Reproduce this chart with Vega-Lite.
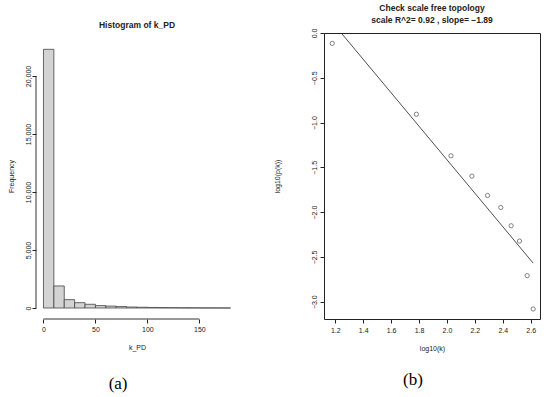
{
  "$schema": "https://vega.github.io/schema/vega-lite/v6.json",
  "background": "white",
  "padding": {"left": 7, "top": 3, "right": 5, "bottom": 5},
  "config": {
    "view": {"stroke": null},
    "font": "Liberation Sans",
    "axis": {"grid": false, "domain": false, "tickColor": "#222", "tickSize": 4, "labelColor": "#222", "labelFontSize": 7, "titleFontSize": 7, "titleFontWeight": "normal", "titleColor": "#222", "labelFont": "Liberation Sans", "titleFont": "Liberation Sans", "labelFlush": false, "labelOverlap": false},
    "title": {"font": "Liberation Sans", "fontSize": 8.5, "fontWeight": "bold", "color": "#222", "anchor": "middle", "offset": 4}
  },
  "spacing": 86,
  "bounds": "flush",
  "hconcat": [
    {
      "title": {"text": "Histogram of k_PD"},
      "width": 202,
      "height": 286,
      "data": {"values": [
        {"bin_start": 0, "bin_end": 10, "count": 22300},
        {"bin_start": 10, "bin_end": 20, "count": 1900},
        {"bin_start": 20, "bin_end": 30, "count": 720},
        {"bin_start": 30, "bin_end": 40, "count": 460},
        {"bin_start": 40, "bin_end": 50, "count": 320},
        {"bin_start": 50, "bin_end": 60, "count": 210},
        {"bin_start": 60, "bin_end": 70, "count": 165},
        {"bin_start": 70, "bin_end": 80, "count": 125},
        {"bin_start": 80, "bin_end": 90, "count": 85},
        {"bin_start": 90, "bin_end": 100, "count": 65},
        {"bin_start": 100, "bin_end": 110, "count": 48},
        {"bin_start": 110, "bin_end": 120, "count": 36},
        {"bin_start": 120, "bin_end": 130, "count": 26},
        {"bin_start": 130, "bin_end": 140, "count": 20},
        {"bin_start": 140, "bin_end": 150, "count": 14},
        {"bin_start": 150, "bin_end": 160, "count": 10},
        {"bin_start": 160, "bin_end": 170, "count": 7},
        {"bin_start": 170, "bin_end": 180, "count": 4}
      ]},
      "layer": [
        {
          "mark": {"type": "bar", "fill": "#d3d3d3", "stroke": "#444", "strokeWidth": 0.8},
          "encoding": {
            "x": {"field": "bin_start", "type": "quantitative", "scale": {"domain": [-7.2, 187.2], "nice": false, "zero": false},
                  "axis": {"values": [0, 50, 100, 150], "format": "d", "title": "k_PD", "labelPadding": 2, "titlePadding": 11}},
            "x2": {"field": "bin_end"},
            "y": {"field": "count", "type": "quantitative", "scale": {"domain": [-948, 23707], "nice": false, "zero": false},
                  "axis": {"values": [0, 5000, 10000, 15000, 20000], "format": ",d", "labelAngle": -90, "title": "Frequency", "labelPadding": 1, "titlePadding": 10}},
            "y2": {"datum": 0}
          }
        },
        {
          "data": {"values": [{}]},
          "mark": {"type": "rule", "color": "#333", "strokeWidth": 1},
          "encoding": {
            "x": {"datum": -7.2, "type": "quantitative", "axis": {"values": [0, 50, 100, 150], "format": "d", "title": "k_PD", "labelPadding": 2, "titlePadding": 11}},
            "y": {"datum": 0, "type": "quantitative", "axis": {"values": [0, 5000, 10000, 15000, 20000], "format": ",d", "labelAngle": -90, "title": "Frequency", "labelPadding": 1, "titlePadding": 10}},
            "y2": {"datum": 20000}
          }
        },
        {
          "data": {"values": [{}]},
          "mark": {"type": "rule", "color": "#333", "strokeWidth": 1},
          "encoding": {
            "y": {"datum": -948, "type": "quantitative", "axis": {"values": [0, 5000, 10000, 15000, 20000], "format": ",d", "labelAngle": -90, "title": "Frequency", "labelPadding": 1, "titlePadding": 10}},
            "x": {"datum": 0, "type": "quantitative", "axis": {"values": [0, 50, 100, 150], "format": "d", "title": "k_PD", "labelPadding": 2, "titlePadding": 11}},
            "x2": {"datum": 150}
          }
        },
        {
          "data": {"values": [{"label": "(a)"}]},
          "mark": {"type": "text", "font": "Liberation Serif", "fontSize": 17, "color": "black", "baseline": "middle"},
          "encoding": {
            "x": {"datum": 71.8, "type": "quantitative", "axis": {"values": [0, 50, 100, 150], "format": "d", "title": "k_PD", "labelPadding": 2, "titlePadding": 11}},
            "y": {"datum": -6551, "type": "quantitative", "axis": {"values": [0, 5000, 10000, 15000, 20000], "format": ",d", "labelAngle": -90, "title": "Frequency", "labelPadding": 1, "titlePadding": 10}},
            "text": {"field": "label"}
          }
        }
      ]
    },
    {
      "title": {"text": ["Check scale free topology", "scale R^2= 0.92 , slope= −1.89"], "lineHeight": 11.7},
      "width": 216,
      "height": 286,
      "view": {"stroke": "#222", "strokeWidth": 1},
      "layer": [
        {
          "data": {"values": [
            {"log10k": 1.178, "log10pk": -0.116},
            {"log10k": 1.781, "log10pk": -0.907},
            {"log10k": 2.029, "log10pk": -1.371},
            {"log10k": 2.179, "log10pk": -1.598},
            {"log10k": 2.291, "log10pk": -1.814},
            {"log10k": 2.386, "log10pk": -1.948},
            {"log10k": 2.460, "log10pk": -2.152},
            {"log10k": 2.520, "log10pk": -2.323},
            {"log10k": 2.575, "log10pk": -2.709},
            {"log10k": 2.618, "log10pk": -3.081}
          ]},
          "mark": {"type": "point", "shape": "circle", "filled": false, "stroke": "#222", "strokeWidth": 0.8, "size": 18},
          "encoding": {
            "x": {"field": "log10k", "type": "quantitative", "scale": {"domain": [1.119, 2.667], "nice": false, "zero": false},
                  "axis": {"values": [1.2, 1.4, 1.6, 1.8, 2.0, 2.2, 2.4, 2.6], "format": ".1f", "title": "log10(k)", "labelPadding": 3, "titlePadding": 11}},
            "y": {"field": "log10pk", "type": "quantitative", "scale": {"domain": [-3.193, 0.0], "nice": false, "zero": false},
                  "axis": {"values": [-3, -2.5, -2, -1.5, -1, -0.5, 0], "format": ".1f", "labelAngle": -90, "title": "log10(p(k))", "labelPadding": 3, "titlePadding": 30}}
          }
        },
        {
          "data": {"values": [
            {"log10k": 1.178, "log10pk": 0.121},
            {"log10k": 2.618, "log10pk": -2.569}
          ]},
          "mark": {"type": "line", "clip": true, "stroke": "#222", "strokeWidth": 0.8},
          "encoding": {
            "x": {"field": "log10k", "type": "quantitative",
                  "axis": {"values": [1.2, 1.4, 1.6, 1.8, 2.0, 2.2, 2.4, 2.6], "format": ".1f", "title": "log10(k)", "labelPadding": 3, "titlePadding": 11}},
            "y": {"field": "log10pk", "type": "quantitative",
                  "axis": {"values": [-3, -2.5, -2, -1.5, -1, -0.5, 0], "format": ".1f", "labelAngle": -90, "title": "log10(p(k))", "labelPadding": 3, "titlePadding": 30}}
          }
        },
        {
          "data": {"values": [{"label": "(b)"}]},
          "mark": {"type": "text", "font": "Liberation Serif", "fontSize": 17, "color": "black", "baseline": "middle"},
          "encoding": {
            "x": {"datum": 1.757, "type": "quantitative", "axis": {"values": [1.2, 1.4, 1.6, 1.8, 2.0, 2.2, 2.4, 2.6], "format": ".1f", "title": "log10(k)", "labelPadding": 3, "titlePadding": 11}},
            "y": {"datum": -3.87, "type": "quantitative", "axis": {"values": [-3, -2.5, -2, -1.5, -1, -0.5, 0], "format": ".1f", "labelAngle": -90, "title": "log10(p(k))", "labelPadding": 3, "titlePadding": 30}},
            "text": {"field": "label"}
          }
        }
      ]
    }
  ]
}
